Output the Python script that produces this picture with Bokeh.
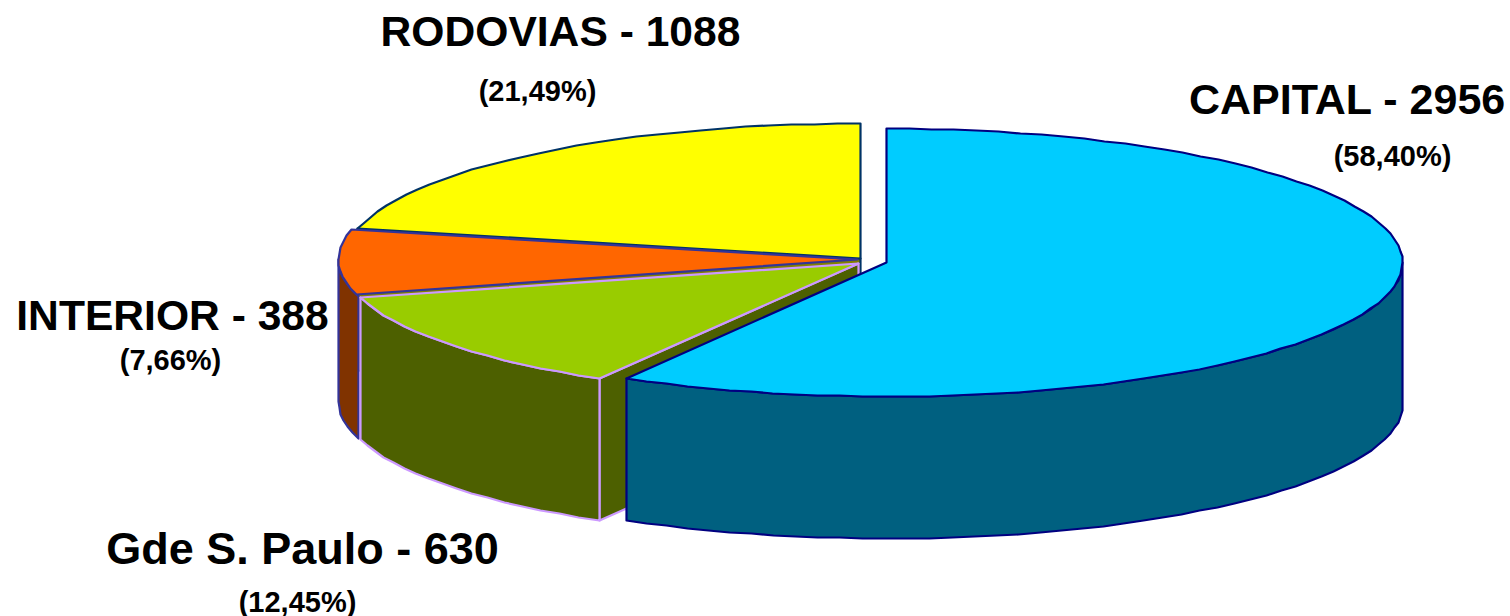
import numpy as np
from bokeh.plotting import figure
from bokeh.models import Range1d
from bokeh.core.properties import value
from bokeh.embed import file_html
from bokeh.resources import INLINE

names = ["CAPITAL", "Gde S. Paulo", "INTERIOR", "RODOVIAS"]
counts = [2956, 630, 388, 1088]
pcts = [58.40, 12.45, 7.66, 21.49]
pct_labels = ["(58,40%)", "(12,45%)", "(7,66%)", "(21,49%)"]

top_fill = ["#00CCFF", "#99CC00", "#FF6600", "#FFFF00"]
wall_fill = ["#006080", "#4D6000", "#803300", "#808000"]
edge = ["#000080", "#CC99FF", "#333399", "#003366"]
centres = [(886, 262), (858, 263), (857, 259), (860, 258)]
RX = [516, 515, 519, 515]
RY = [134, 133, 135, 135]
DEPTH = 142

title_pos = [(1347, 98), (302, 548), (172, 314), (560, 30)]
title_size = ["43px", "45px", "42.6px", "42.6px"]
sub_pos = [(1392, 155), (297, 601), (170, 359), (537, 90)]

p = figure(width=1510, height=616, output_backend="svg", toolbar_location=None,
           x_range=Range1d(0, 1510), y_range=Range1d(616, 0), min_border=0)
p.axis.visible = False
p.grid.visible = False
p.outline_line_color = None

def arc(i, a, b):
    n = max(2, int(abs(b - a) / 2.5) + 1)
    th = np.radians(np.linspace(a, b, n))
    cx, cy = centres[i]
    return np.round(cx + RX[i] * np.sin(th)), np.round(cy - RY[i] * np.cos(th))

def poly(x, y, fill, line):
    p.patch(list(x), list(y), fill_color=fill, line_color=line, line_width=2.2, line_join="round")

def wall(i, a, b):
    x, y = arc(i, a, b)
    poly(np.r_[x, x[::-1]], np.r_[y, y[::-1] + DEPTH], wall_fill[i], edge[i])

def cut(i, a):
    x, y = arc(i, a, a)
    cx, cy = centres[i]
    poly([cx, x[0], x[0], cx], [cy, y[0], y[0] + DEPTH, cy + DEPTH], wall_fill[i], edge[i])

def top(i, a, b):
    x, y = arc(i, a, b)
    cx, cy = centres[i]
    poly(np.r_[cx, x], np.r_[cy, y], top_fill[i], edge[i])

bounds = np.r_[0, np.cumsum(pcts)] * 3.6
starts, ends = bounds[:-1], bounds[1:]

# back to front: RODOVIAS, INTERIOR, Gde S. Paulo, CAPITAL
cut(3, starts[3])
top(3, starts[3], ends[3])
wall(2, starts[2] - 1, 270)
top(2, starts[2], ends[2])
cut(1, starts[1])
wall(1, starts[1], ends[1])
top(1, starts[1], ends[1])
wall(0, 90, ends[0])
top(0, starts[0], ends[0])

for i in range(4):
    p.text([title_pos[i][0]], [title_pos[i][1]], text=[f"{names[i]} - {counts[i]}"],
           text_font=value("Liberation Sans"), text_font_style="bold", text_font_size=title_size[i],
           text_align="center", text_baseline="alphabetic", text_color="#000000")
    p.text([sub_pos[i][0]], [sub_pos[i][1]], text=[pct_labels[i]],
           text_font=value("Liberation Sans"), text_font_style="bold", text_font_size="29px",
           text_align="center", text_baseline="alphabetic", text_color="#000000")

open("out.html", "w").write(file_html(p, INLINE))
